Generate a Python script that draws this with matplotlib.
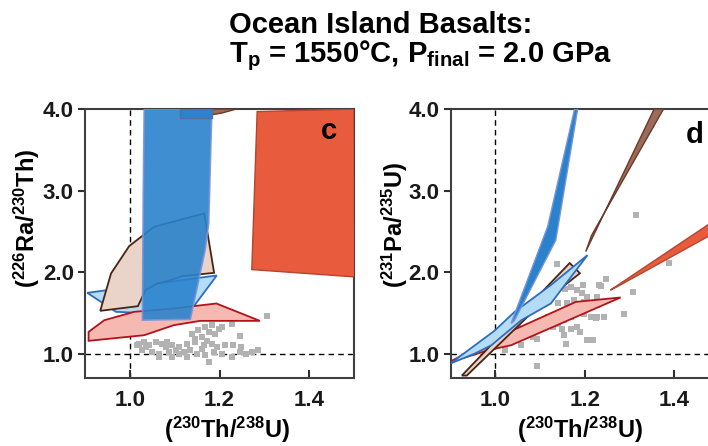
import matplotlib
matplotlib.use("Agg")
import matplotlib.pyplot as plt
from matplotlib.patches import Polygon

plt.rcParams['font.family'] = ['Liberation Sans', 'DejaVu Sans']
plt.rcParams['mathtext.fontset'] = 'custom'
plt.rcParams['mathtext.rm'] = 'Liberation Sans:bold'
plt.rcParams['mathtext.it'] = 'Liberation Sans:bold'
plt.rcParams['mathtext.bf'] = 'Liberation Sans:bold'
plt.rcParams['mathtext.default'] = 'rm'

# ---------------- data: panel c ----------------
c_orange_x = [1.284, 1.500, 1.502, 1.272]
c_orange_y = [3.968, 4.000, 1.940, 2.030]
c_tan_x = [0.934, 0.958, 0.9985, 1.054, 1.166, 1.188, 1.117, 1.091, 1.061, 1.035, 1.018]
c_tan_y = [1.524, 1.982, 2.318, 2.555, 2.719, 1.990, 1.950, 1.900, 1.860, 1.778, 1.581]
c_lblue_x = [0.905, 0.969, 1.128, 1.194]
c_lblue_y = [1.745, 1.512, 1.471, 1.958]
c_red_x = [0.908, 0.943, 1.010, 1.098, 1.193, 1.290, 1.157, 1.098, 1.032, 0.908]
c_red_y = [1.266, 1.409, 1.512, 1.553, 1.614, 1.401, 1.401, 1.348, 1.225, 1.156]
c_blue_x = [1.032, 1.030, 1.028, 1.135, 1.168, 1.176, 1.183]
c_blue_y = [4.000, 3.000, 1.410, 1.420, 2.270, 2.600, 4.000]
c_topblue_x = [1.113, 1.183, 1.183, 1.113]
c_topblue_y = [3.887, 3.887, 4.000, 4.000]
c_topbrown_x = [1.183, 1.205, 1.238, 1.183]
c_topbrown_y = [3.930, 3.950, 4.000, 4.000]

c_pts_x = [1.307, 1.246, 1.183, 1.168, 1.205, 1.153, 1.139, 1.176, 1.190, 1.161,
           1.146, 1.227, 1.021, 1.032, 1.043, 1.058, 1.072, 1.083, 1.094, 1.109,
           1.128, 1.146, 1.165, 1.183, 1.194, 1.213, 1.231, 1.249, 1.028, 1.050,
           1.065, 1.087, 1.102, 1.120, 1.135, 1.150, 1.168, 1.187, 1.205, 1.227,
           1.246, 1.260, 1.272, 1.286, 1.065, 1.094, 1.128, 1.176, 1.035, 1.080,
           1.161, 1.198, 1.172, 1.110, 1.015]
c_pts_y = [1.462, 1.212, 1.347, 1.327, 1.327, 1.286, 1.245, 1.266, 1.245, 1.204,
           1.183, 1.368, 1.122, 1.142, 1.102, 1.142, 1.122, 1.142, 1.102, 1.081,
           1.122, 1.142, 1.102, 1.122, 1.081, 1.102, 1.102, 1.081, 1.040, 1.020,
           0.999, 1.020, 1.040, 1.020, 1.040, 0.999, 0.979, 1.020, 0.999, 0.958,
           1.020, 0.999, 1.020, 1.040, 0.958, 0.958, 0.958, 0.897, 1.081, 1.081,
           1.061, 1.300, 1.160, 1.000, 1.100]

# ---------------- data: panel d ----------------
d_red_x = [0.893, 1.006, 1.180, 1.280, 1.035, 0.984]
d_red_y = [0.885, 1.204, 1.634, 1.688, 1.102, 1.041]
d_tan_x = [0.925, 1.166, 1.189, 1.100, 0.936]
d_tan_y = [0.730, 2.110, 1.985, 1.600, 0.730]
d_lblue_x = [0.899, 0.998, 1.043, 1.124, 1.206, 1.124, 1.058, 0.991, 0.954]
d_lblue_y = [0.877, 1.280, 1.512, 1.840, 2.208, 1.614, 1.409, 1.102, 1.000]
d_blue_x = [1.035, 1.117, 1.177, 1.184, 1.135, 1.042]
d_blue_y = [1.370, 2.560, 4.000, 4.000, 2.390, 1.400]
d_brown_x = [1.202, 1.355, 1.376, 1.215]
d_brown_y = [2.250, 4.000, 4.000, 2.450]
d_orange_x = [1.257, 1.500, 1.500, 1.272]
d_orange_y = [1.778, 2.670, 2.510, 1.819]

d_pts_x = [1.314, 1.389, 1.308, 1.248, 1.237, 1.288, 1.137, 1.093, 1.156, 1.168,
           1.183, 1.194, 1.205, 1.227, 1.139, 1.161, 1.183, 1.198, 1.213, 1.227,
           1.242, 1.168, 1.154, 1.139, 1.128, 1.150, 1.168, 1.183, 1.190, 1.154,
           1.205, 1.219, 1.157, 1.094, 1.109, 1.083, 1.058, 1.021, 1.050, 1.117,
           1.139, 1.161, 1.176, 1.198, 1.213, 1.219, 1.228, 1.243, 1.224, 1.195,
           1.231]
d_pts_y = [2.699, 2.106, 1.749, 1.913, 1.830, 1.479, 2.097, 0.844, 1.790, 1.819,
           1.778, 1.737, 1.696, 1.696, 1.614, 1.614, 1.532, 1.491, 1.450, 1.450,
           1.450, 1.450, 1.409, 1.368, 1.327, 1.307, 1.307, 1.327, 1.266, 1.225,
           1.172, 1.172, 1.123, 1.184, 1.368, 1.205, 1.102, 1.041, 1.368, 1.450,
           1.491, 1.553, 1.655, 1.635, 1.573, 1.163, 1.600, 1.450, 1.440, 1.840,
           1.840]

x_ticks = [1.0, 1.2, 1.4]
x_ticklabels = ['1.0', '1.2', '1.4']
y_ticks = [1.0, 2.0, 3.0, 4.0]
y_ticklabels = ['1.0', '2.0', '3.0', '4.0']

# ---------------- colours ----------------
ORANGE, ORANGE_E = '#e85b3d', '#b4452e'
TAN, TAN_E = '#ead3c8', '#4a2412'
LBLUE, LBLUE_E = '#b3dcf5', '#2f6cc0'
RED, RED_E = '#f6b9b1', '#b3121a'
BLUE, BLUE_E = '#2a82cc', '#7b93d8'
BROWN, BROWN_E = '#9c6a58', '#6b3a2a'
GRAY = '#b2b2b2'

W, H = 708, 446
fig = plt.figure(figsize=(W / 100, H / 100), dpi=100)


def poly(ax, xs, ys, fc, ec, lw=1.3, alpha=1.0, z=2):
    p = Polygon(list(zip(xs, ys)), closed=True, facecolor=fc, edgecolor=ec,
                linewidth=lw, alpha=alpha, zorder=z)
    ax.add_patch(p)


def style(ax):
    ax.set_xlim(0.9, 1.5)
    ax.set_ylim(0.7, 4.0)
    ax.set_xticks(x_ticks)
    ax.set_xticklabels(x_ticklabels)
    ax.set_yticks(y_ticks)
    ax.set_yticklabels(y_ticklabels)
    ax.tick_params(axis='x', direction='in', length=6, width=1.5, pad=9,
                   labelsize=16, color='#303030')
    ax.tick_params(axis='y', direction='out', length=5, width=1.5, pad=3,
                   labelsize=16, color='#303030')
    for lab in ax.get_xticklabels() + ax.get_yticklabels():
        lab.set_fontweight('bold')
        lab.set_color('#1a1a1a')
    for s in ax.spines.values():
        s.set_linewidth(1.5)
        s.set_color('#404040')
    ax.axhline(1.0, color='black', lw=1.0, ls=(0, (4, 3)), zorder=1.5)
    ax.axvline(1.0, color='black', lw=1.0, ls=(0, (4, 3)), zorder=1.5)


# panel c
axc = fig.add_axes([85 / W, 1 - 378 / H, (354 - 85) / W, (378 - 109) / H])
style(axc)
axc.scatter(c_pts_x, c_pts_y, marker='s', s=16, color=GRAY, linewidths=0, zorder=2)
poly(axc, c_orange_x, c_orange_y, ORANGE, ORANGE_E, lw=1.0, z=3)
poly(axc, c_lblue_x, c_lblue_y, LBLUE, LBLUE_E, z=3)
poly(axc, c_tan_x, c_tan_y, TAN, TAN_E, z=3.2)
poly(axc, c_red_x, c_red_y, RED, RED_E, z=3.4)
poly(axc, c_topbrown_x, c_topbrown_y, BROWN, BROWN_E, lw=1.0, z=3.5)
poly(axc, c_blue_x, c_blue_y, BLUE, BLUE_E, lw=1.2, alpha=0.9, z=4)
poly(axc, c_topblue_x, c_topblue_y, BLUE, '#5a6a9a', lw=1.0, alpha=0.9, z=4)
axc.text(0.905, 0.92, 'c', transform=axc.transAxes, fontsize=21,
         fontweight='bold', ha='center', va='center', zorder=6)

# panel d
axd = fig.add_axes([450.7 / W, 1 - 378 / H, (719 - 450.7) / W, (378 - 109) / H])
style(axd)
axd.scatter(d_pts_x, d_pts_y, marker='s', s=16, color=GRAY, linewidths=0, zorder=2)
poly(axd, d_red_x, d_red_y, RED, RED_E, z=3)
poly(axd, d_tan_x, d_tan_y, TAN, TAN_E, z=3.2)
poly(axd, d_lblue_x, d_lblue_y, LBLUE, LBLUE_E, z=3.4)
poly(axd, d_blue_x, d_blue_y, BLUE, BLUE_E, lw=1.0, z=4)
poly(axd, d_brown_x, d_brown_y, BROWN, BROWN_E, lw=1.0, z=4)
poly(axd, d_orange_x, d_orange_y, ORANGE, ORANGE_E, lw=1.0, z=4)
axd.text(695 / W, 1 - 135 / H, 'd', transform=fig.transFigure, fontsize=21,
         fontweight='bold', ha='center', va='center', zorder=6)

# axis labels
fig.text(27 / W, 1 - 218 / H, r'$(^{226}$Ra/$^{230}$Th)', rotation=90,
         fontsize=17, fontweight='bold', ha='center', va='center')
fig.text(395 / W, 1 - 225 / H, r'$(^{231}$Pa/$^{235}$U)', rotation=90,
         fontsize=17, fontweight='bold', ha='center', va='center')
fig.text(227 / W, 1 - 430 / H, r'$(^{230}$Th/$^{238}$U)',
         fontsize=17, fontweight='bold', ha='center', va='center')
fig.text(580 / W, 1 - 430 / H, r'$(^{230}$Th/$^{238}$U)',
         fontsize=17, fontweight='bold', ha='center', va='center')

# title
fig.text(229 / W, 1 - 33 / H, 'Ocean Island Basalts:', fontsize=21,
         fontweight='bold', ha='left', va='baseline')
fig.text(229 / W, 1 - 62 / H, r'T$_\mathrm{p}$ = 1550°C, P$_\mathrm{final}$ = 2.0 GPa',
         fontsize=21, fontweight='bold', ha='left', va='baseline')

fig.savefig('out.png', dpi=100)
